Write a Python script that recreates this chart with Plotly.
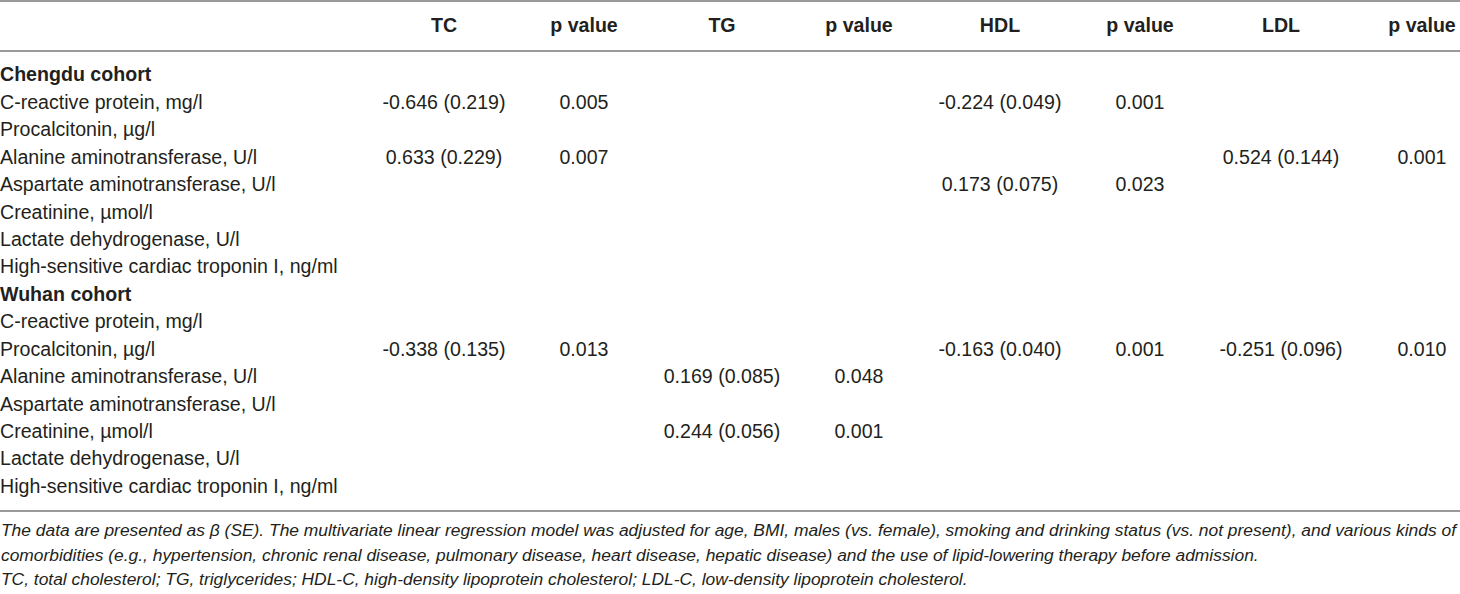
import plotly.graph_objects as go

# ========== Table data ==========
cohorts = ["Chengdu cohort", "Wuhan cohort"]
variables = [
    "C-reactive protein, mg/l",
    "Procalcitonin, µg/l",
    "Alanine aminotransferase, U/l",
    "Aspartate aminotransferase, U/l",
    "Creatinine, µmol/l",
    "Lactate dehydrogenase, U/l",
    "High-sensitive cardiac troponin I, ng/ml",
]
headers = ["TC", "p value", "TG", "p value", "HDL", "p value", "LDL", "p value"]

# beta, SE and p per lipid, 7 Chengdu rows then 7 Wuhan rows (None = not shown)
tc_beta = [-0.646, None, 0.633, None, None, None, None, None, -0.338, None, None, None, None, None]
tc_se = [0.219, None, 0.229, None, None, None, None, None, 0.135, None, None, None, None, None]
tc_p = [0.005, None, 0.007, None, None, None, None, None, 0.013, None, None, None, None, None]

tg_beta = [None, None, None, None, None, None, None, None, None, 0.169, None, 0.244, None, None]
tg_se = [None, None, None, None, None, None, None, None, None, 0.085, None, 0.056, None, None]
tg_p = [None, None, None, None, None, None, None, None, None, 0.048, None, 0.001, None, None]

hdl_beta = [-0.224, None, None, 0.173, None, None, None, None, -0.163, None, None, None, None, None]
hdl_se = [0.049, None, None, 0.075, None, None, None, None, 0.040, None, None, None, None, None]
hdl_p = [0.001, None, None, 0.023, None, None, None, None, 0.001, None, None, None, None, None]

ldl_beta = [None, None, 0.524, None, None, None, None, None, -0.251, None, None, None, None, None]
ldl_se = [None, None, 0.144, None, None, None, None, None, 0.096, None, None, None, None, None]
ldl_p = [None, None, 0.001, None, None, None, None, None, 0.010, None, None, None, None, None]

notes = [
    "The data are presented as β (SE). The multivariate linear regression model was adjusted for age, BMI, males (vs. female), "
    "smoking and drinking status (vs. not present), and various kinds of",
    "comorbidities (e.g., hypertension, chronic renal disease, pulmonary disease, heart disease, hepatic disease) and the use of "
    "lipid-lowering therapy before admission.",
    "TC, total cholesterol; TG, triglycerides; HDL-C, high-density lipoprotein cholesterol; LDL-C, low-density lipoprotein cholesterol.",
]

# ========== Layout constants (pixels) ==========
W, H = 1460, 594
FONT = "Liberation Sans"
TXT = "#231f20"
SIZE = 19.6
NOTE_SIZE = 17.4
header_y = 27
row_y0 = 76.6
row_dy = 27.42
col_x = [444, 584, 722, 859, 1000, 1140, 1281, 1422]
rule_y = [1, 51, 511]
note_y0, note_dy = 530, 24.5


def fmt_beta(b, s):
    return "" if b is None else f"{b:.3f} ({s:.3f})"


def fmt_p(p):
    return "" if p is None else f"{p:.3f}"


# row order: cohort title, 7 variables, cohort title, 7 variables
row_text, row_bold = [], []
for c in cohorts:
    row_text.append(c)
    row_bold.append(True)
    row_text.extend(variables)
    row_bold.extend([False] * len(variables))
row_pos = [row_y0 + i * row_dy for i in range(len(row_text))]
var_pos = [y for y, b in zip(row_pos, row_bold) if not b]

columns = [
    [fmt_beta(b, s) for b, s in zip(tc_beta, tc_se)], [fmt_p(p) for p in tc_p],
    [fmt_beta(b, s) for b, s in zip(tg_beta, tg_se)], [fmt_p(p) for p in tg_p],
    [fmt_beta(b, s) for b, s in zip(hdl_beta, hdl_se)], [fmt_p(p) for p in hdl_p],
    [fmt_beta(b, s) for b, s in zip(ldl_beta, ldl_se)], [fmt_p(p) for p in ldl_p],
]

fig = go.Figure()

# header
fig.add_trace(go.Scatter(
    x=col_x, y=[header_y] * len(headers), text=[f"<b>{h}</b>" for h in headers],
    mode="text", textposition="middle center",
    textfont=dict(family=FONT, size=SIZE, color=TXT), hoverinfo="skip"))

# row labels
fig.add_trace(go.Scatter(
    x=[0] * len(row_text), y=row_pos,
    text=[f"<b>{t}</b>" if b else t for t, b in zip(row_text, row_bold)],
    mode="text", textposition="middle right",
    textfont=dict(family=FONT, size=SIZE, color=TXT), hoverinfo="skip"))

# value cells
for cx, col in zip(col_x, columns):
    fig.add_trace(go.Scatter(
        x=[cx] * len(col), y=var_pos, text=col,
        mode="text", textposition="middle center",
        textfont=dict(family=FONT, size=SIZE, color=TXT), hoverinfo="skip"))

# horizontal rules
for ry in rule_y:
    fig.add_shape(type="line", x0=0, x1=W, y0=ry, y1=ry, xref="x", yref="y",
                  line=dict(color="#9a9a9a", width=2))

# footnotes
for i, n in enumerate(notes):
    fig.add_annotation(x=0, y=note_y0 + i * note_dy, xref="x", yref="y", text=f"<i>{n}</i>",
                       showarrow=False, xanchor="left", yanchor="middle", borderpad=0,
                       font=dict(family=FONT, size=NOTE_SIZE, color=TXT))

fig.update_xaxes(range=[0, W], visible=False, fixedrange=True)
fig.update_yaxes(range=[H, 0], visible=False, fixedrange=True)
fig.update_layout(
    width=W, height=H, margin=dict(l=0, r=0, t=0, b=0),
    plot_bgcolor="white", paper_bgcolor="white", showlegend=False)

fig.write_html("out.html", config={"displayModeBar": False},
               post_script="document.body.style.margin='0';")
